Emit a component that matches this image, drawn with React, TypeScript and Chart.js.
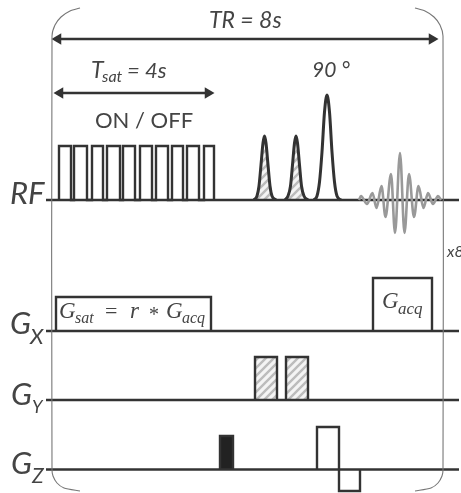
import React, { useEffect, useRef } from "react";
import { Chart, registerables } from "chart.js";

Chart.register(...registerables);

const WIDTH = 461;
const HEIGHT = 493;
const INK = "#333333";
const SANS = "Lato, 'Open Sans', sans-serif";
const SERIF = "'Liberation Serif', serif";

// Baselines (x extent and the level of each channel)
const baselineX = [46, 459];
const levelRF = 200;
const levelGx = 331;
const levelGy = 400;
const levelGz = 469.5;

// Timing arrows
const trX = [58, 432];
const trY = [39, 39];
const tsatX = [60, 208];
const tsatY = [93, 93];

// Repetition frame
const frameLeftX = [80, 70, 61, 55, 52, 52, 53, 57, 64, 80];
const frameLeftY = [8, 11, 17, 25, 36, 470, 476, 483, 488, 491];
const frameRightX = [415, 425, 434, 440, 443, 443, 442, 438, 431, 415];
const frameRightY = [8, 11, 17, 25, 36, 470, 476, 483, 488, 491];

// Saturation train
const satX = [59, 59, 71, 71, 74, 74, 87, 87, 92, 92, 103, 103, 107, 107, 120, 120, 123, 123, 135, 135, 140, 140, 152, 152, 156, 156, 168, 168, 172, 172, 183, 183, 187, 187, 199, 199, 204, 204, 214, 214];
const satY = [200, 146, 146, 200, 200, 146, 146, 200, 200, 146, 146, 200, 200, 146, 146, 200, 200, 146, 146, 200, 200, 146, 146, 200, 200, 146, 146, 200, 200, 146, 146, 200, 200, 146, 146, 200, 200, 146, 146, 200];

// Three RF lobes
const lobe1X = [254, 257, 259, 261, 263, 264.5, 266, 268, 270, 272, 276];
const lobe1Y = [200, 196, 186, 165, 143, 136, 143, 165, 186, 196, 200];
const lobe2X = [285, 288, 290.5, 292.5, 294.5, 296, 297.5, 299.5, 301.5, 304, 308];
const lobe2Y = [200, 196, 186, 165, 143, 136, 143, 165, 186, 196, 200];
const lobe3X = [314, 317, 319.5, 322, 324.5, 327, 329.5, 332, 334.5, 337, 341];
const lobe3Y = [200, 196, 182, 152, 112, 95, 112, 152, 182, 196, 200];

// Acquired echo
const echoX = [359, 361, 367, 372.5, 376.5, 381.5, 385.5, 391, 395, 400, 404.5, 409, 414, 418.5, 423.5, 428, 433, 438, 441];
const echoY = [200, 196, 204, 193, 208, 186, 217, 174, 233, 153, 233, 174, 217, 186, 208, 193, 204, 196, 200];

// Gradients
const gSatX = [56, 56, 211, 211];
const gSatY = [331, 297, 297, 331];
const gAcqX = [373, 373, 432, 432];
const gAcqY = [331, 278, 278, 331];
const gy1X = [255, 255, 277, 277];
const gy1Y = [401, 357, 357, 401];
const gy2X = [286, 286, 308, 308];
const gy2Y = [401, 357, 357, 401];
const gzSolidX = [220, 220, 233, 233];
const gzSolidY = [469.5, 436, 436, 469.5];
const gzPosX = [317, 317, 339, 339];
const gzPosY = [469.5, 427, 427, 469.5];
const gzNegX = [339, 339, 360, 360];
const gzNegY = [469.5, 491, 491, 469.5];

// Labels: [text, x, y, font, align]
const labels: [string, number, number, string, CanvasTextAlign][] = [
  ["TR = 8s", 209, 21, `italic 23px ${SANS}`, "left"],
  ["T", 91, 71, `italic 23px ${SANS}`, "left"],
  ["sat", 102, 77, `italic 16px ${SANS}`, "left"],
  ["= 4s", 127, 71, `italic 22px ${SANS}`, "left"],
  ["ON / OFF", 95, 121, `22px ${SANS}`, "left"],
  ["90 °", 312, 70, `italic 21px ${SANS}`, "left"],
  ["RF", 10, 194, `italic 31px ${SANS}`, "left"],
  ["G", 10, 324, `italic 31px ${SANS}`, "left"],
  ["X", 30, 337, `italic 22px ${SANS}`, "left"],
  ["G", 11, 395, `italic 31px ${SANS}`, "left"],
  ["Y", 32, 407, `italic 18px ${SANS}`, "left"],
  ["G", 11, 464, `italic 31px ${SANS}`, "left"],
  ["Z", 32, 476, `italic 21px ${SANS}`, "left"],
  ["x8", 447, 252, `italic 16px ${SANS}`, "left"],
  ["G", 59, 312, `italic 23px ${SERIF}`, "left"],
  ["sat", 75, 319, `italic 16px ${SERIF}`, "left"],
  ["=", 105, 312, `22px ${SERIF}`, "left"],
  ["r", 130, 312, `italic 23px ${SERIF}`, "left"],
  ["*", 149, 316, `20px ${SERIF}`, "left"],
  ["G", 166, 312, `italic 23px ${SERIF}`, "left"],
  ["acq", 182, 319, `italic 16px ${SERIF}`, "left"],
  ["G", 382, 302, `italic 23px ${SERIF}`, "left"],
  ["acq", 398, 310, `italic 17px ${SERIF}`, "left"],
];

const zip = (xs: number[], ys: number[]) => xs.map((x, i) => ({ x, y: ys[i] }));

function hatch(): CanvasPattern | string {
  const c = document.createElement("canvas");
  c.width = 8;
  c.height = 8;
  const g = c.getContext("2d");
  if (!g) return "#cccccc";
  g.fillStyle = "#f4f4f4";
  g.fillRect(0, 0, 8, 8);
  g.strokeStyle = "#bcbcbc";
  g.lineWidth = 2.4;
  g.beginPath();
  g.moveTo(-2, 10);
  g.lineTo(10, -2);
  g.moveTo(-2, 2);
  g.lineTo(2, -2);
  g.moveTo(6, 10);
  g.lineTo(10, 6);
  g.stroke();
  return g.createPattern(c, "repeat") ?? "#cccccc";
}

const labelPlugin = {
  id: "labels",
  afterDatasetsDraw(chart: any) {
    const { ctx, scales } = chart;
    ctx.save();
    ctx.fillStyle = "#444444";
    ctx.textBaseline = "middle";
    for (const [text, x, y, font, align] of labels) {
      ctx.font = font;
      ctx.textAlign = align;
      ctx.fillText(text, scales.x.getPixelForValue(x), scales.y.getPixelForValue(y));
    }
    ctx.restore();
  },
};

export default function App() {
  const ref = useRef<HTMLCanvasElement>(null);

  useEffect(() => {
    if (!ref.current) return;
    const pattern = hatch();
    const stroke = (xs: number[], ys: number[], extra: object = {}) => ({
      data: zip(xs, ys),
      showLine: true,
      borderColor: INK,
      borderWidth: 2.4,
      pointRadius: 0,
      fill: false,
      ...extra,
    });
    const smooth = { cubicInterpolationMode: "monotone" };
    const arrow = {
      borderWidth: 2.6,
      pointRadius: 6.5,
      pointStyle: "triangle",
      pointBackgroundColor: INK,
      pointBorderColor: INK,
      pointBorderWidth: 0,
      pointRotation: [-90, 90],
    };
    const frame = { borderColor: "#777777", borderWidth: 1.1, tension: 0.25 };

    const chart = new Chart(ref.current, {
      type: "scatter",
      data: {
        datasets: [
          stroke(frameLeftX, frameLeftY, frame),
          stroke(frameRightX, frameRightY, frame),
          stroke(echoX, echoY, { ...smooth, borderColor: "#999999", borderWidth: 2.6 }),
          stroke(baselineX, [levelRF, levelRF]),
          stroke(baselineX, [levelGx, levelGx]),
          stroke(baselineX, [levelGy, levelGy]),
          stroke(baselineX, [levelGz, levelGz]),
          stroke(trX, trY, arrow),
          stroke(tsatX, tsatY, arrow),
          stroke(satX, satY),
          stroke(lobe1X, lobe1Y, { ...smooth, borderWidth: 3, fill: { value: levelRF }, backgroundColor: pattern }),
          stroke(lobe2X, lobe2Y, { ...smooth, borderWidth: 3, fill: { value: levelRF }, backgroundColor: pattern }),
          stroke(lobe3X, lobe3Y, { ...smooth, borderWidth: 3 }),
          stroke(gSatX, gSatY),
          stroke(gAcqX, gAcqY),
          stroke(gy1X, gy1Y, { fill: { value: levelGy }, backgroundColor: pattern }),
          stroke(gy2X, gy2Y, { fill: { value: levelGy }, backgroundColor: pattern }),
          stroke(gzSolidX, gzSolidY, { fill: { value: levelGz }, backgroundColor: "#222222" }),
          stroke(gzPosX, gzPosY),
          stroke(gzNegX, gzNegY),
        ] as any,
      },
      options: {
        animation: false,
        responsive: false,
        devicePixelRatio: 1,
        events: [],
        layout: { padding: 0, autoPadding: false },
        plugins: { legend: { display: false }, title: { display: false }, tooltip: { enabled: false } },
        scales: {
          x: { type: "linear", display: false, min: 0, max: WIDTH },
          y: { type: "linear", display: false, min: 0, max: HEIGHT, reverse: true },
        },
      },
      plugins: [labelPlugin],
    });
    return () => chart.destroy();
  }, []);

  return (
    <canvas
      ref={ref}
      width={WIDTH}
      height={HEIGHT}
      style={{ position: "fixed", left: 0, top: 0, width: WIDTH, height: HEIGHT, display: "block", background: "#ffffff" }}
    />
  );
}
